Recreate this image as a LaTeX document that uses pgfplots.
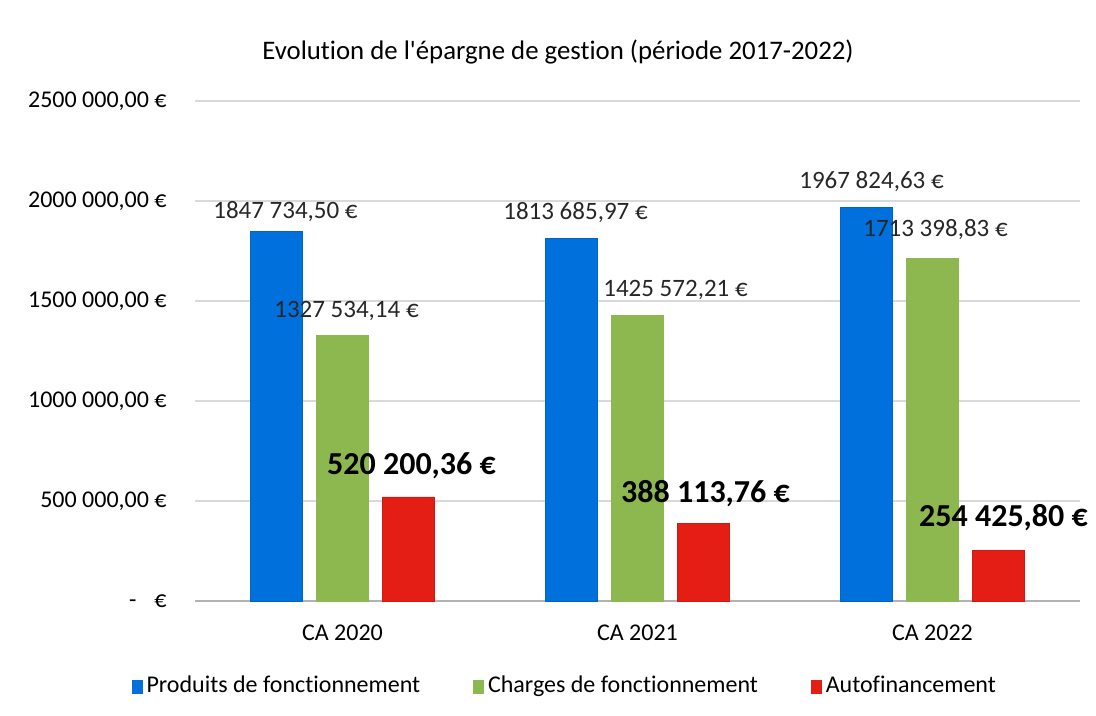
\documentclass[border=0pt]{standalone}
\usepackage{pgfplots}
\pgfplotsset{compat=1.18}
\usepackage{pgfplotstable}
\usepackage{fontspec}
\setmainfont{Carlito}[Ligatures={NoCommon}]
\definecolor{cblue}{RGB}{0,112,221}
\definecolor{cgreen}{RGB}{141,184,80}
\definecolor{cred}{RGB}{228,30,20}
\definecolor{cgrid}{RGB}{217,217,217}

\pgfplotstableread[col sep=semicolon]{
x;y;lab;dx;dy
0;1847734.50;1847 734,50 €;4.5;10
1;1813685.97;1813 685,97 €;2;13
2;1967824.63;1967 824,63 €;2.5;13
}\prodtab
\pgfplotstableread[col sep=semicolon]{
x;y;lab;dx;dy
0;1327534.14;1327 534,14 €;2;12
1;1425572.21;1425 572,21 €;19;13
2;1713398.83;1713 398,83 €;1.5;14.5
}\chargtab
\pgfplotstableread[col sep=semicolon]{
x;y;lab;dx;dy
0;520200.36;520 200,36 €;1.5;15.5
1;388113.76;388 113,76 €;1;15
2;254425.80;254 425,80 €;2.5;16
}\autotab

\begin{document}
\begin{tikzpicture}
\useasboundingbox (0,0) rectangle (548pt,358pt);
\node[font=\fontsize{13.4}{16}\selectfont] at (279pt,332pt) {Evolution de l\textquotesingle épargne de gestion (période 2017-2022)};
\begin{axis}[
  at={(97.5pt,57.5pt)}, anchor=south west,
  scale only axis, width=442.5pt, height=250pt,
  ybar=7pt, bar width=26pt,
  xmin=-0.5, xmax=2.5, ymin=0, ymax=2500000,
  xtick={0,1,2}, xticklabels={CA 2020, CA 2021, CA 2022},
  ytick={0,500000,1000000,1500000,2000000,2500000},
  yticklabels={{-\hspace{9pt}€},{500 000,00 €},{1000 000,00 €},{1500 000,00 €},{2000 000,00 €},{2500 000,00 €}},
  scaled y ticks=false,
  axis line style={draw=none}, major tick length=0pt,
  ymajorgrids, grid style={color=cgrid, line width=0.7pt},
  extra y ticks={0}, extra y tick labels={},
  extra y tick style={grid style={color=black!30, line width=0.7pt}},
  yticklabel style={anchor=east, inner sep=0pt, xshift=-14pt, font=\fontsize{12}{14}\selectfont},
  xticklabel style={anchor=center, inner sep=0pt, yshift=-16pt, font=\fontsize{12}{14}\selectfont},
  clip=false,
  point meta=explicit symbolic,
  nodes near coords={\pgfplotspointmeta},
  visualization depends on={\thisrow{dx} \as \dx},
  visualization depends on={\thisrow{dy} \as \dy},
  nodes near coords style={anchor=center, inner sep=0pt, xshift=\dx pt, yshift=\dy pt, text=black!85, font=\fontsize{12.5}{15}\selectfont},
  legend style={at={(0.419,-0.17)}, anchor=center, draw=none, fill=none,
    legend columns=3, font=\fontsize{12}{14}\selectfont,
    /tikz/every even column/.append style={column sep=24.5pt}},
  legend cell align=left,
]
\addplot[fill=cblue, draw=cblue!90!black,
  legend image code/.code={\fill[cblue] (0pt,-3.5pt) rectangle (5pt,3pt);}]
  table[x=x, y=y, meta=lab] {\prodtab};
\addlegendentry{Produits de fonctionnement}
\addplot[fill=cgreen, draw=cgreen,
  legend image code/.code={\fill[cgreen] (0pt,-3.5pt) rectangle (5pt,3pt);}]
  table[x=x, y=y, meta=lab] {\chargtab};
\addlegendentry{Charges de fonctionnement}
\addplot[fill=cred, draw=cred!90!black,
  nodes near coords style={font=\bfseries\fontsize{16}{19}\selectfont, text=black},
  legend image code/.code={\fill[cred] (0pt,-3.5pt) rectangle (5pt,3pt);}]
  table[x=x, y=y, meta=lab] {\autotab};
\addlegendentry{Autofinancement}
\end{axis}
\end{tikzpicture}
\end{document}
